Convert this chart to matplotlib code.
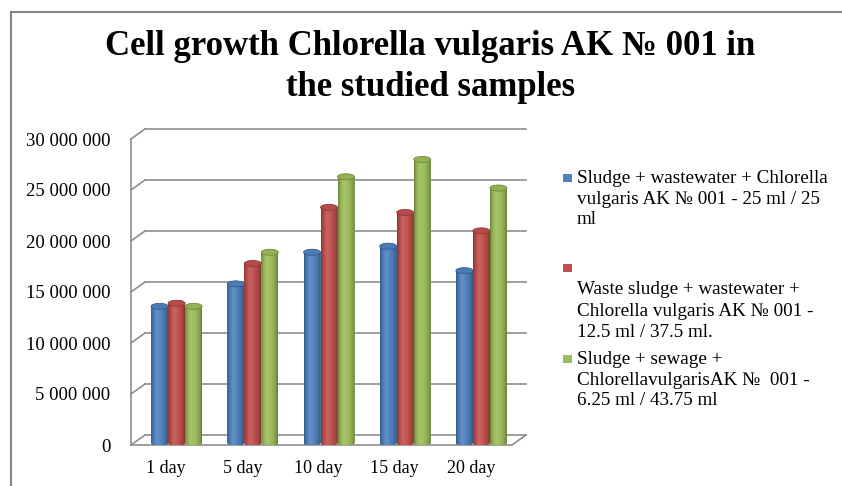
import numpy as np
import matplotlib
matplotlib.use('Agg')
import matplotlib.pyplot as plt
from matplotlib.patches import Ellipse, Rectangle, PathPatch
from matplotlib.lines import Line2D
from matplotlib.path import Path
from matplotlib.transforms import Affine2D, ScaledTranslation
from matplotlib.colors import to_rgb

# ---------------- data ----------------
days = ['1 day', '5 day', '10 day', '15 day', '20 day']
series_names = [
    'Sludge + wastewater + Chlorella vulgaris AK № 001 - 25 ml / 25 ml',
    'Waste sludge + wastewater + Chlorella vulgaris AK № 001 - 12.5 ml / 37.5 ml.',
    'Sludge + sewage + ChlorellavulgarisAK №  001 - 6.25 ml / 43.75 ml',
]
sludge_25_25 = [13.4e6, 15.6e6, 18.7e6, 19.3e6, 16.9e6]
waste_12_5_37_5 = [13.7e6, 17.6e6, 23.1e6, 22.6e6, 20.8e6]
sewage_6_25_43_75 = [13.4e6, 18.7e6, 26.1e6, 27.8e6, 25.0e6]
y_ticks = [0, 5e6, 10e6, 15e6, 20e6, 25e6, 30e6]
y_tick_labels = ['0', '5 000 000', '10 000 000', '15 000 000',
                 '20 000 000', '25 000 000', '30 000 000']
legend_lines = [
    ['Sludge + wastewater + Chlorella', 'vulgaris AK № 001 - 25 ml / 25', 'ml'],
    ['Waste sludge + wastewater +', 'Chlorella vulgaris AK № 001 -', '12.5 ml / 37.5 ml.'],
    ['Sludge + sewage +', 'ChlorellavulgarisAK №  001 -', '6.25 ml / 43.75 ml'],
]
title_lines = ['Cell growth Chlorella vulgaris AK № 001 in', 'the studied samples']

colors = ['#4F81BD', '#C0504D', '#9BBB59']
SERIF = ['Liberation Serif', 'DejaVu Serif']

# ---------------- layout ----------------
W, H = 842, 486
fig = plt.figure(figsize=(W / 100, H / 100), dpi=100)
fig.patch.set_facecolor('white')
X0, X1, YB, YT = 131, 512, 445, 139  # front plane in pixels (y from top)
ax = fig.add_axes([X0 / W, 1 - YB / H, (X1 - X0) / W, (YB - YT) / H])
ax.set_xlim(-0.5, 4.5)
ax.set_ylim(0, 30e6)
for s in ax.spines.values():
    s.set_visible(False)
ax.patch.set_alpha(0)

pxx = 5.0 / (X1 - X0)
pxy = 30e6 / (YB - YT)
dx, dy = 14 * pxx, 10 * pxy  # depth offset of back wall
grid_c = '#8E8E8E'
glw = 1.2

# gridlines (back wall) + diagonal at left wall
for v in y_ticks:
    ax.plot([-0.5, -0.5 + dx], [v, v + dy], color=grid_c, lw=glw, clip_on=False, zorder=1)
    ax.plot([-0.5 + dx, 4.5 + dx], [v + dy, v + dy], color=grid_c, lw=glw, clip_on=False, zorder=1)
# front left edge and floor
ax.plot([-0.5, -0.5], [0, 30e6], color=grid_c, lw=glw, clip_on=False, zorder=1)
ax.plot([-0.5, 4.5], [0, 0], color=grid_c, lw=glw, clip_on=False, zorder=1)
ax.plot([4.5, 4.5 + dx], [0, dy], color=grid_c, lw=glw, clip_on=False, zorder=1)

# ---------------- bars ----------------
series = [sludge_25_25, waste_12_5_37_5, sewage_6_25_43_75]
x = np.arange(len(days))
bw = 17 * pxx
group_off = 7.5 * pxx
base = 2 * pxy
eh = 6 * pxy


def shade(rgb, f):
    rgb = np.array(rgb)
    if f >= 1:
        return rgb + (1 - rgb) * (f - 1)
    return rgb * f


tgrid = np.linspace(0, 1, 80)
fgrid = np.interp(tgrid, [0, 0.12, 0.35, 0.6, 0.88, 1], [0.68, 0.9, 1.12, 1.02, 0.84, 0.66])

for k, vals in enumerate(series):
    rgb = to_rgb(colors[k])
    grad = np.array([shade(rgb, f) for f in fgrid]).clip(0, 1)[None, :, :]
    bars = ax.bar(x + group_off + (k - 1) * bw, vals, width=bw, bottom=base,
                  color=colors[k], edgecolor='none', zorder=2)
    for p in bars:
        x0, w, y0, h = p.get_x(), p.get_width(), p.get_y(), p.get_height()
        cx = x0 + w / 2
        rect = Path([(x0, y0), (x0 + w, y0), (x0 + w, y0 + h), (x0, y0 + h), (x0, y0)],
                    [Path.MOVETO, Path.LINETO, Path.LINETO, Path.LINETO, Path.CLOSEPOLY])
        ell = Affine2D().scale(w / 2, eh / 2).translate(cx, y0).transform_path(Path.unit_circle())
        clip = PathPatch(Path.make_compound_path(rect, ell), transform=ax.transData,
                         facecolor='none', edgecolor='none')
        ax.add_patch(clip)
        im = ax.imshow(grad, extent=[x0, x0 + w, y0 - eh, y0 + h], aspect='auto',
                       interpolation='bilinear', zorder=3)
        im.set_clip_path(clip)
        top = Ellipse((cx, y0 + h), w, eh, facecolor=shade(rgb, 0.95),
                      edgecolor=shade(rgb, 0.72), lw=0.6, zorder=4)
        ax.add_patch(top)

ax.set_xlim(-0.5, 4.5)
ax.set_ylim(0, 30e6)

# ---------------- ticks ----------------
ax.set_yticks(y_ticks, y_tick_labels)
ax.set_xticks(x, days)
ax.tick_params(axis='y', length=0, pad=15, labelsize=13.5)
ax.tick_params(axis='x', length=0, pad=11, labelsize=13)
for lbl in ax.get_yticklabels() + ax.get_xticklabels():
    lbl.set_fontfamily(SERIF)
for lbl in ax.get_xticklabels():
    lbl.set_transform(lbl.get_transform() + ScaledTranslation(-3 / 100, 0, fig.dpi_scale_trans))


def fx(px):
    return px / W


def fy(py):
    return 1 - py / H


# ---------------- title ----------------
fig.text(fx(430), fy(55), title_lines[0], ha='center', va='baseline', fontsize=25,
         fontweight='bold', family=SERIF)
fig.text(fx(431), fy(96), title_lines[1], ha='center', va='baseline', fontsize=25,
         fontweight='bold', family=SERIF)

# ---------------- legend ----------------
marker_y = [178, 268, 359]
text_base = [[183, 204, 224], [294, 316, 337], [364, 385, 405]]
for k in range(3):
    fig.add_artist(Rectangle((fx(563), fy(marker_y[k] + 4)), 9 / W, 8 / H,
                             transform=fig.transFigure, facecolor=colors[k], edgecolor='none'))
    for line, yb in zip(legend_lines[k], text_base[k]):
        fig.text(fx(577), fy(yb), line, ha='left', va='baseline', fontsize=13.8, family=SERIF)

# ---------------- border ----------------
fig.add_artist(Line2D([fx(11), fx(11)], [0, fy(12)], color='#868686', lw=1.5,
                      transform=fig.transFigure))
fig.add_artist(Line2D([fx(11), 1], [fy(12), fy(12)], color='#868686', lw=1.5,
                      transform=fig.transFigure))

fig.savefig('out.png', dpi=100, facecolor='white')
